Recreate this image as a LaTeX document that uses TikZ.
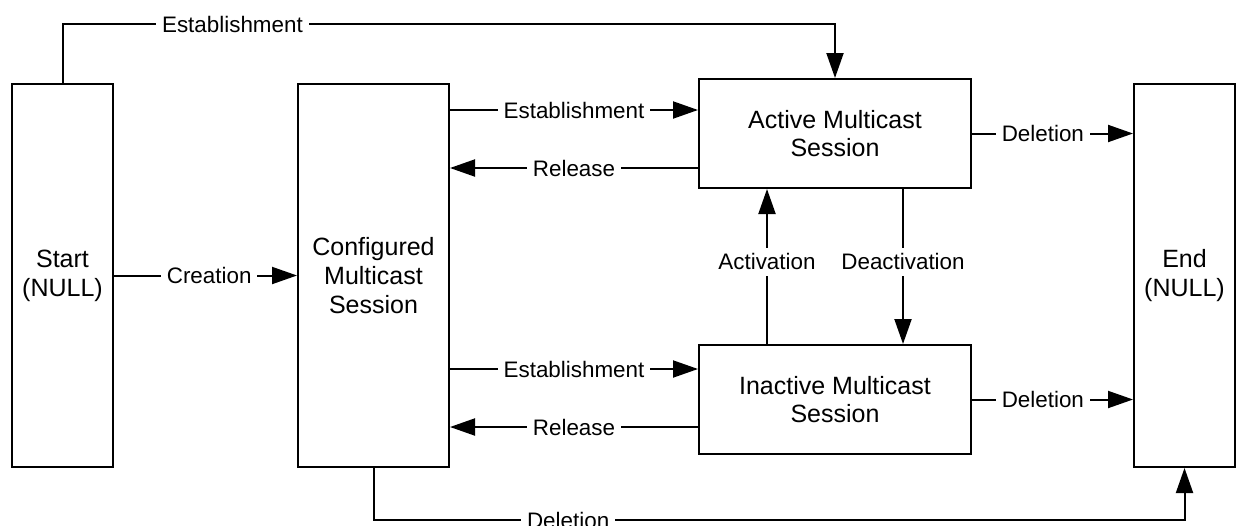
\documentclass[tikz,border=0pt]{standalone}
\usepackage{fontspec}
\setmainfont{Liberation Sans}
\usetikzlibrary{arrows.meta}
\tikzset{
  state/.style={draw, line width=1pt, align=center, inner sep=0pt,
    font=\fontsize{12.5pt}{14.4pt}\selectfont},
  conn/.style={line width=1pt},
  arr/.style={conn, -{Triangle[length=12.5pt,width=8.5pt]}},
  lbl/.style={fill=white, inner sep=3pt, font=\fontsize{11.2pt}{13pt}\selectfont}
}
\begin{document}
\begin{tikzpicture}[x=0.5pt,y=-0.5pt]
\useasboundingbox (0,0) rectangle (1236,525);
\node[state, minimum width=50.5pt, minimum height=191.5pt] (start) at (62.5,275.5) {Start\\(NULL)};
\node[state, minimum width=75.5pt, minimum height=191.5pt] (conf) at (373.5,275.5) {Configured\\Multicast\\Session};
\node[state, minimum width=136pt, minimum height=54.5pt] (active) at (835,133.5) {Active Multicast\\Session};
\node[state, minimum width=136pt, minimum height=54.5pt] (inactive) at (835,399.5) {Inactive Multicast\\Session};
\node[state, minimum width=50.5pt, minimum height=191.5pt] (end) at (1184.5,275.5) {End\\(NULL)};

\coordinate (topc) at (62.5,24);
\coordinate (botc) at (373.5,520);

% top establishment
\draw[arr] (start.north) -- (topc) -| node[lbl, pos=0.11] {Establishment} (active.north);
% creation
\draw[arr] (start) -- node[lbl, pos=0.52] {Creation} (conf);
% conf <-> active
\draw[arr] (conf.east |- 0,110) -- node[lbl] {Establishment} (active.west |- 0,110);
\draw[arr] (active.west |- 0,168) -- node[lbl] {Release} (conf.east |- 0,168);
% conf <-> inactive
\draw[arr] (conf.east |- 0,369) -- node[lbl] {Establishment} (inactive.west |- 0,369);
\draw[arr] (inactive.west |- 0,427) -- node[lbl] {Release} (conf.east |- 0,427);
% activation / deactivation
\draw[arr] (inactive.north -| 767,0) -- node[lbl, pos=0.53] {Activation} (active.south -| 767,0);
\draw[arr] (active.south -| 903,0) -- node[lbl, pos=0.47] {Deactivation} (inactive.north -| 903,0);
% deletions
\draw[arr] (active.east) -- node[lbl, pos=0.44] {Deletion} (end.west |- active.east);
\draw[arr] (inactive.east) -- node[lbl, pos=0.44] {Deletion} (end.west |- inactive.east);
\draw[arr] (conf.south) -- (botc) -| node[lbl, pos=0.12] {Deletion} (end.south);
\end{tikzpicture}
\end{document}
